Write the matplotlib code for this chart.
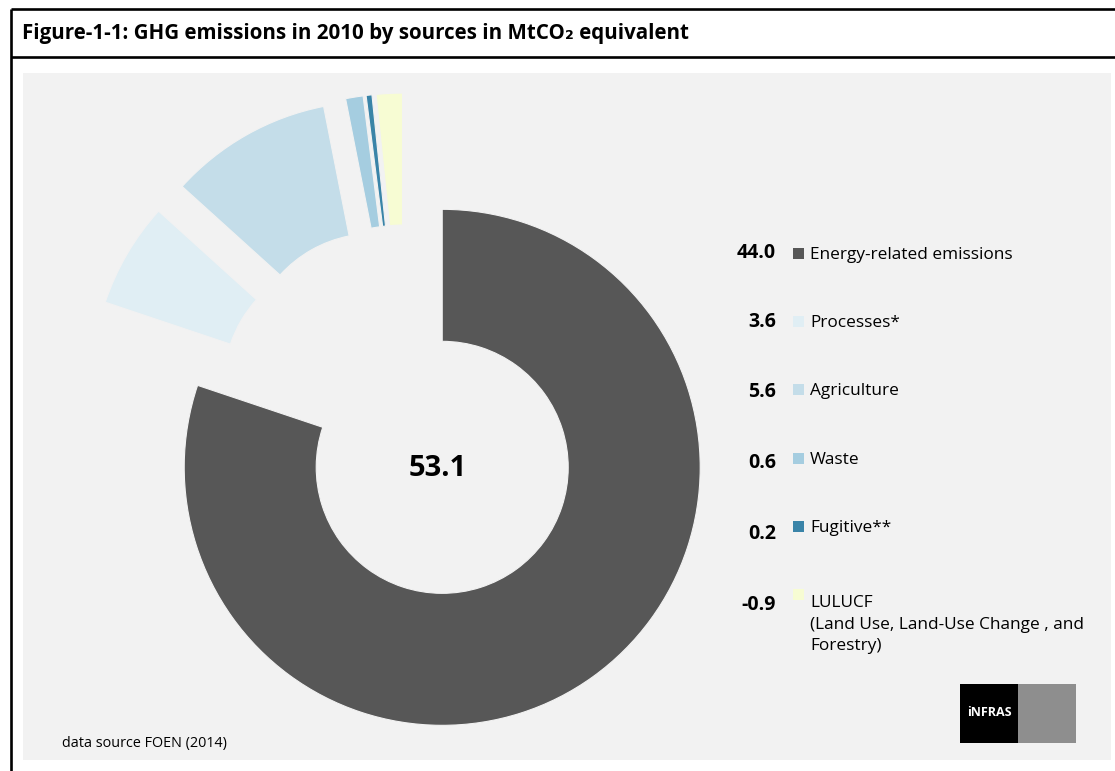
import matplotlib.pyplot as plt
from matplotlib.patches import Rectangle

# GHG emissions 2010 by source, MtCO2 equivalent
sources = ["Energy-related emissions", "Processes*", "Agriculture", "Waste",
           "Fugitive**", "LULUCF\n(Land Use, Land-Use Change , and\nForestry)"]
values = [44.0, 3.6, 5.6, 0.6, 0.2, -0.9]
colors = ["#575757", "#e0eef4", "#c4dde9", "#a5cde0", "#3a84a8", "#f7fcd3"]

total = round(sum(values), 1)

BG = "#f2f2f2"
FONT = ["Open Sans", "DejaVu Sans"]

fig = plt.figure(figsize=(11.15, 7.71), dpi=100)
ax = fig.add_axes([0, 0, 1, 1])

# frame: top rule, title separator, left rule
ax.add_patch(Rectangle((23, 73), 1088, 687, facecolor=BG, edgecolor="none", zorder=0))
ax.plot([11, 1115], [9, 9], color="black", lw=1.9, solid_capstyle="butt")
ax.plot([11, 1115], [57, 57], color="black", lw=1.9, solid_capstyle="butt")
ax.plot([11, 11], [9, 771], color="black", lw=1.9, solid_capstyle="butt")

ax.text(22, 39, "Figure-1-1: GHG emissions in 2010 by sources in MtCO\u2082 equivalent",
        fontsize=14.8, fontweight="bold", family=FONT, va="baseline", ha="left")

# doughnut, slices sized by absolute value, every slice pulled out a bit
explode = [62, 65, 66, 66, 66, 66]
wedges, _ = ax.pie([abs(v) for v in values], colors=colors, explode=explode,
                   startangle=-90, counterclock=True, radius=258, center=(406, 417),
                   wedgeprops=dict(width=132, edgecolor=BG, linewidth=0.8))
ax.text(438, 476, f"{total:.1f}", fontsize=21, fontweight="bold", family=FONT,
        ha="center", va="baseline")

# legend with values
label_y = [259, 327, 395, 464, 532, 600]
value_y = [258, 327, 397, 468, 539, 610]
line_step = 25
for v, name, c, ly, vy in zip(values, sources, colors, label_y, value_y):
    ax.text(776, vy, f"{v:.1f}", fontsize=14, fontweight="bold", family=FONT,
            ha="right", va="baseline")
    ax.add_patch(Rectangle((793, ly - 11), 11, 11, facecolor=c, edgecolor="none"))
    n_extra = name.count("\n")
    # multi-line text sits on the baseline of its last line
    ax.text(810, ly + line_step * n_extra, name, fontsize=12.4, family=FONT,
            ha="left", va="baseline", linespacing=1.45)

ax.text(62, 747, "data source FOEN (2014)", fontsize=10.4, family=FONT,
        ha="left", va="baseline")

# logo
ax.add_patch(Rectangle((960, 684), 58, 59, facecolor="black", edgecolor="none"))
ax.add_patch(Rectangle((1018, 684), 58, 59, facecolor="#8e8e8e", edgecolor="none"))
ax.text(989, 713, "iNFRAS", color="white", fontsize=9, fontweight="bold",
        family=FONT, ha="center", va="center")

ax.set_xlim(0, 1115)
ax.set_ylim(771, 0)
ax.set_aspect("equal")
ax.axis("off")

fig.savefig("out.png", dpi=100, facecolor="white")
